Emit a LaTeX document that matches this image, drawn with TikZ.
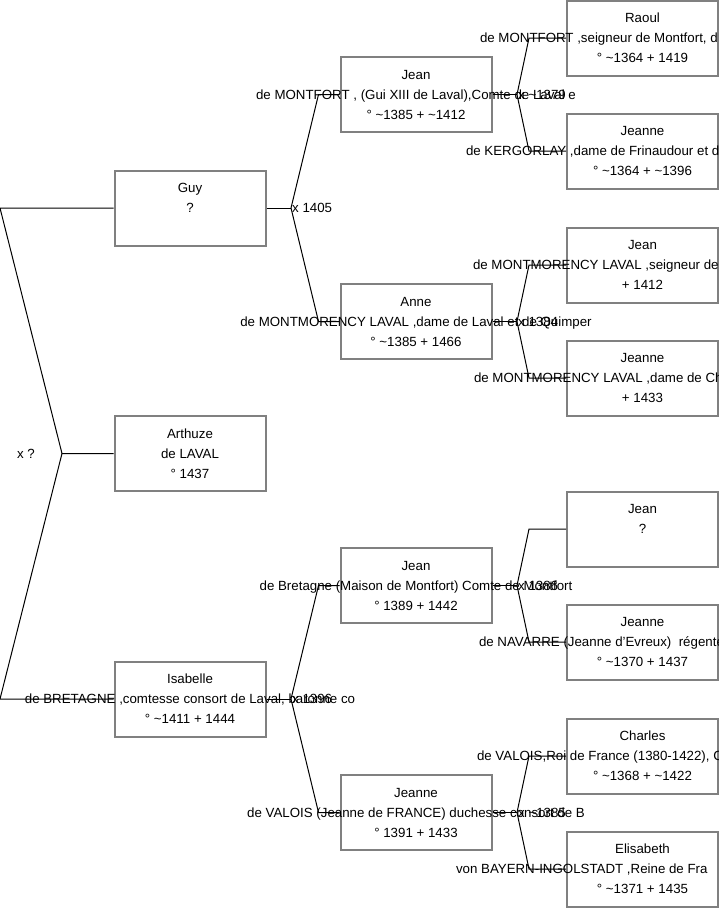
\documentclass[tikz,border=0pt]{standalone}
\usepackage{fontspec}
\setmainfont{Liberation Sans}
\usetikzlibrary{positioning}
\newcommand{\tld}{\textasciitilde}
\newcommand{\wideline}[1]{\makebox[0pt]{#1}}
\newcommand{\cutline}[2]{\makebox[0pt][l]{\hspace*{#1}#2}}

\begin{document}
\begin{tikzpicture}[x=1pt, y=-1pt, every node/.style={font=\fontsize{13.3}{20}\selectfont}]
\tikzset{person/.style={draw=black!50, line width=2pt, minimum width=151pt, minimum height=75pt, inner sep=0pt, align=center}}
\tikzset{link/.style={line width=1pt}}
\tikzset{wed/.style={inner sep=1pt}}
\useasboundingbox (0,0) rectangle (719,908);
% generation 1
\node[person] (guy) at (190,208) {Guy\\?\\\mbox{}};
\node[person] (arthuze) at (190,453.5) {Arthuze\\de LAVAL\\° 1437};
\node[person] (isabelle) at (190,699) {Isabelle\\\wideline{de BRETAGNE ,comtesse consort de Laval, baronne co}\\° \tld1411 + 1444};
% generation 2
\node[person] (jeanlaval) at (416,94.5) {Jean\\\wideline{de MONTFORT , (Gui XIII de Laval),Comte de Laval e}\\° \tld1385 + \tld1412};
\node[person] (anne) at (416,321.5) {Anne\\\wideline{de MONTMORENCY LAVAL ,dame de Laval et de Quimper}\\° \tld1385 + 1466};
\node[person] (jeanbret) at (416,585.5) {Jean\\\wideline{de Bretagne (Maison de Montfort) Comte de Montfort}\\° 1389 + 1442};
\node[person] (jeannevalois) at (416,812.5) {Jeanne\\\wideline{de VALOIS (Jeanne de FRANCE) duchesse consort de B}\\° 1391 + 1433};
% generation 3
\node[person] (raoul) at (642.5,38) {Raoul\\\cutline{-162.5pt}{de MONTFORT ,seigneur de Montfort, d}\\° \tld1364 + 1419};
\node[person] (jeannekerg) at (642.5,151) {Jeanne\\\cutline{-176.5pt}{de KERGORLAY ,dame de Frinaudour et d}\\° \tld1364 + \tld1396};
\node[person] (jeanmm) at (642.5,265) {Jean\\\cutline{-169.5pt}{de MONTMORENCY LAVAL ,seigneur de}\\+ 1412};
\node[person] (jeannemm) at (642.5,378) {Jeanne\\\cutline{-168.5pt}{de MONTMORENCY LAVAL ,dame de Ch}\\+ 1433};
\node[person] (jeanq) at (642.5,529) {Jean\\?\\\mbox{}};
\node[person] (jeannenav) at (642.5,642) {Jeanne\\\cutline{-163.5pt}{de NAVARRE (Jeanne d'Evreux)\ \ régente}\\° \tld1370 + 1437};
\node[person] (charles) at (642.5,756) {Charles\\\cutline{-165.5pt}{de VALOIS,Roi de France (1380-1422), C}\\° \tld1368 + \tld1422};
\node[person] (elisabeth) at (642.5,869) {Elisabeth\\\cutline{-186.5pt}{von BAYERN-INGOLSTADT ,Reine de Fra}\\° \tld1371 + 1435};
% couples
\coordinate (lft) at (0,0);
\coordinate (m0) at (62,453.5);
\coordinate (m1) at (291,208);
\coordinate (m6) at (291,699);
\coordinate (m2) at (517,94.5);
\coordinate (m3) at (517,321.5);
\coordinate (m4) at (517,585.5);
\coordinate (m5) at (517,812.5);
\draw[link] (guy.west) -- (guy.west -| lft) -- (m0) -- (arthuze.west);
\draw[link] (m0) -- (isabelle.west -| lft) -- (isabelle.west);
\draw[link] (guy.east) -- (m1);
\draw[link] (m1) -- ([xshift=-21pt]jeanlaval.west) -- (jeanlaval.west);
\draw[link] (m1) -- ([xshift=-21pt]anne.west) -- (anne.west);
\draw[link] (isabelle.east) -- (m6);
\draw[link] (m6) -- ([xshift=-21pt]jeanbret.west) -- (jeanbret.west);
\draw[link] (m6) -- ([xshift=-21pt]jeannevalois.west) -- (jeannevalois.west);
\draw[link] (jeanlaval.east) -- (m2);
\draw[link] (m2) -- ([xshift=-37pt]raoul.west) -- (raoul.west);
\draw[link] (m2) -- ([xshift=-37pt]jeannekerg.west) -- (jeannekerg.west);
\draw[link] (anne.east) -- (m3);
\draw[link] (m3) -- ([xshift=-37pt]jeanmm.west) -- (jeanmm.west);
\draw[link] (m3) -- ([xshift=-37pt]jeannemm.west) -- (jeannemm.west);
\draw[link] (jeanbret.east) -- (m4);
\draw[link] (m4) -- ([xshift=-37pt]jeanq.west) -- (jeanq.west);
\draw[link] (m4) -- ([xshift=-37pt]jeannenav.west) -- (jeannenav.west);
\draw[link] (jeannevalois.east) -- (m5);
\draw[link] (m5) -- ([xshift=-37pt]charles.west) -- (charles.west);
\draw[link] (m5) -- ([xshift=-37pt]elisabeth.west) -- (elisabeth.west);
% marriages
\node[wed, left=26pt of m0] (w0) {x ?};
\node[wed, right=0pt of m1] (w1) {x 1405};
\node[wed, right=0pt of m6] (w6) {x 1396};
\node[wed, right=0pt of m2] (w2) {x \tld1379};
\node[wed, right=0pt of m3] (w3) {x 1384};
\node[wed, right=0pt of m4] (w4) {x 1386};
\node[wed, right=0pt of m5] (w5) {x \tld1385};
\end{tikzpicture}
\end{document}
